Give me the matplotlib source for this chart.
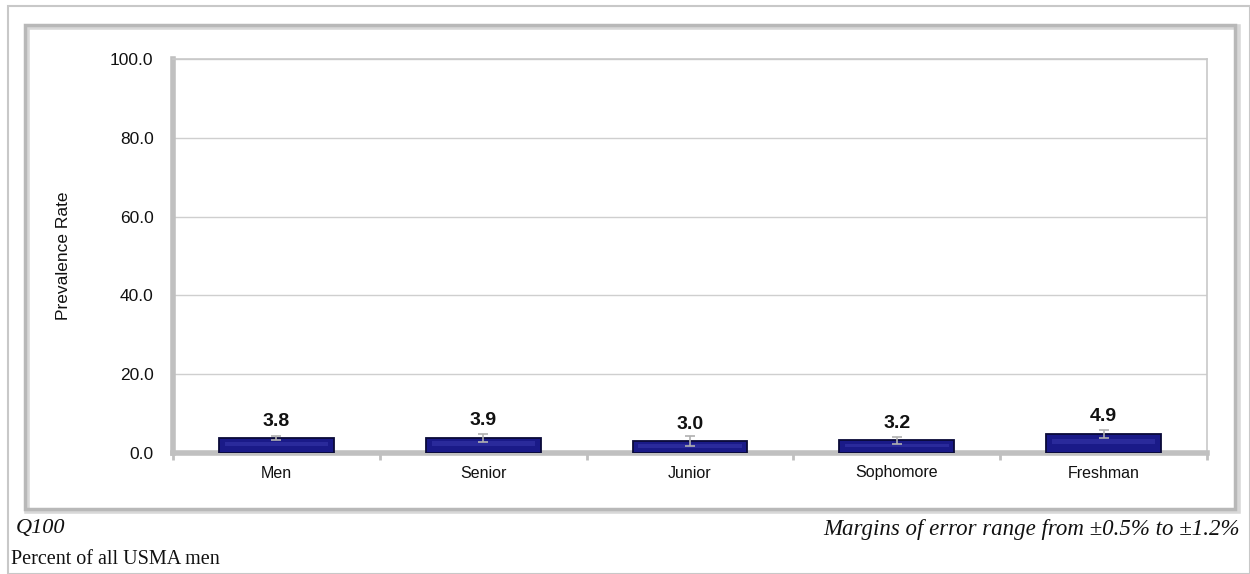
import matplotlib
matplotlib.use("Agg")
import matplotlib.pyplot as plt
from matplotlib.patches import Rectangle
import numpy as np

categories = ["Men", "Senior", "Junior", "Sophomore", "Freshman"]
values = [3.8, 3.9, 3.0, 3.2, 4.9]
errors = [0.5, 1.0, 1.2, 0.8, 1.0]
yticks = [0, 20, 40, 60, 80, 100]

W, H = 1250, 574
fig = plt.figure(figsize=(W / 100, H / 100), dpi=100)
fig.patch.set_facecolor("white")

def fx(px):
    return px / W

def fy(py):
    return 1 - py / H

# outer frame
fig.add_artist(Rectangle((fx(8), fy(574)), fx(1250) - fx(8), fy(6) - fy(574),
                         transform=fig.transFigure, fill=False,
                         edgecolor="#c8c8c8", lw=1.5, zorder=0))
# inner chart frame (shadow + border)
fig.add_artist(Rectangle((fx(27), fy(511)), fx(1238) - fx(27), fy(27) - fy(511),
                         transform=fig.transFigure, fill=False,
                         edgecolor="#d8d8d8", lw=4, zorder=0))
fig.add_artist(Rectangle((fx(25), fy(509)), fx(1235) - fx(25), fy(25) - fy(509),
                         transform=fig.transFigure, fill=False,
                         edgecolor="#b8b8b8", lw=2.5, zorder=0))

ax = fig.add_axes([fx(173), fy(453), fx(1207) - fx(173), fy(59) - fy(453)])
x = np.arange(len(categories))
ax.set_xlim(-0.5, len(categories) - 0.5)
ax.set_ylim(0, 100)

ax.bar(x, values, width=0.555, color="#1a1a88", edgecolor="#0a0a38",
       linewidth=1.3, zorder=3)
# subtle bevel highlight band
ax.bar(x, [v * 0.3 for v in values], bottom=[v * 0.45 for v in values],
       width=0.5, color="#4a4ac0", linewidth=0, zorder=3.5, alpha=0.35)
ax.errorbar(x, values, yerr=errors, fmt="none", ecolor="#b0b0b0",
            elinewidth=1.2, capsize=3.5, capthick=1.2, zorder=4)

for xi, v in zip(x, values):
    ax.annotate(f"{v:.1f}", (xi, v), xytext=(0, 6), textcoords="offset points",
                ha="center", va="bottom", fontsize=14, fontweight="bold",
                family="Liberation Sans", color="#111111")

ax.set_yticks(yticks)
ax.set_yticklabels([f"{t:.1f}" for t in yticks], fontsize=12.5,
                   family="Liberation Sans", color="#111111")
ax.yaxis.grid(True, color="#cfcfcf", lw=1.0, zorder=0)
ax.set_axisbelow(True)

ax.set_xticks(x)
ax.set_xticklabels(categories, fontsize=11.5, family="Liberation Sans",
                   color="#111111")
ax.set_xticks(np.arange(-0.5, len(categories), 1.0), minor=True)
ax.tick_params(axis="x", which="major", length=0, pad=9)
ax.tick_params(axis="x", which="minor", length=5, width=2, color="#c0c0c0",
               direction="out")
ax.tick_params(axis="y", length=0, pad=14)

ax.spines["left"].set_color("#c0c0c0")
ax.spines["left"].set_linewidth(4)
ax.spines["bottom"].set_color("#c0c0c0")
ax.spines["bottom"].set_linewidth(4)
ax.spines["top"].set_color("#c8c8c8")
ax.spines["top"].set_linewidth(1.2)
ax.spines["right"].set_color("#c8c8c8")
ax.spines["right"].set_linewidth(1.2)

fig.text(fx(63), fy(256), "Prevalence Rate", rotation=90, ha="center",
         va="center", fontsize=12.5, family="Liberation Sans", color="#111111")

fig.text(fx(16), fy(529), "Q100", ha="left", va="center", fontsize=16,
         style="italic", family="Liberation Serif", color="#111111")
fig.text(fx(1240), fy(529), "Margins of error range from \u00b10.5% to \u00b11.2%",
         ha="right", va="center", fontsize=16.5, style="italic",
         family="Liberation Serif", color="#111111")
fig.text(fx(11), fy(559), "Percent of all USMA men", ha="left", va="center",
         fontsize=14.5, family="Liberation Serif", color="#111111")

fig.savefig("out.png", dpi=100, facecolor="white")
